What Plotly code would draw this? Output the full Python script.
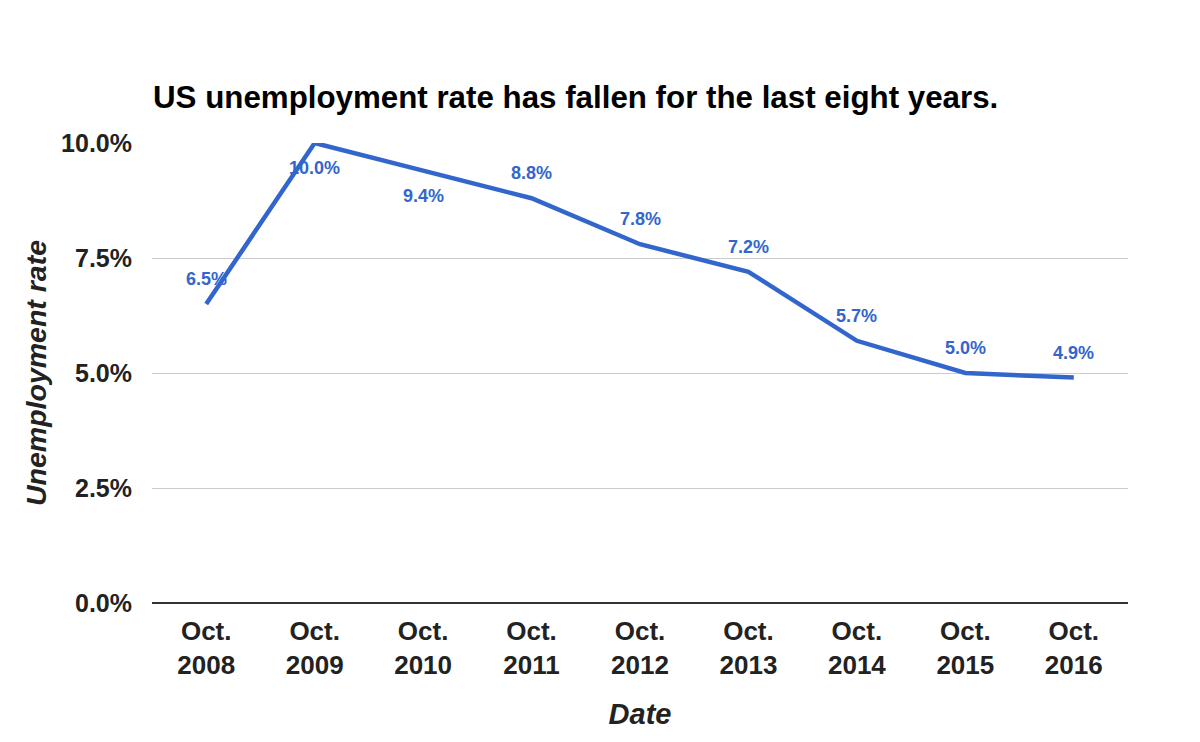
import plotly.graph_objects as go

dates = ["Oct.<br>2008", "Oct.<br>2009", "Oct.<br>2010", "Oct.<br>2011", "Oct.<br>2012",
         "Oct.<br>2013", "Oct.<br>2014", "Oct.<br>2015", "Oct.<br>2016"]
rates = [6.5, 10.0, 9.4, 8.8, 7.8, 7.2, 5.7, 5.0, 4.9]
label_side = [1, -1, -1, 1, 1, 1, 1, 1, 1]  # 1 = above, -1 = below

y_ticks = [0, 2.5, 5.0, 7.5, 10.0]

FONT = "Liberation Sans, Arial, sans-serif"
BLUE = "#3366cc"

# page body has an 8px margin, so positions are offset by -8
fig = go.Figure()
fig.add_trace(go.Scatter(
    x=list(range(len(dates))), y=rates, mode="lines",
    line=dict(color=BLUE, width=4.5), hoverinfo="skip", showlegend=False,
))

for i, (v, s) in enumerate(zip(rates, label_side)):
    fig.add_annotation(
        x=i, y=v, text=f"<b>{v:.1f}%</b>", showarrow=False,
        yshift=25 * s, font=dict(family=FONT, size=18, color=BLUE),
    )

fig.update_layout(
    width=1200, height=742,
    paper_bgcolor="white", plot_bgcolor="white",
    margin=dict(l=144, r=80, t=135, b=147),
    title=dict(
        text="<b>US unemployment rate has fallen for the last eight years.</b>",
        font=dict(family=FONT, size=31.3, color="#000000"),
        xref="container", x=145 / 1200, xanchor="left",
        yref="container", y=1 - 89 / 742, yanchor="middle",
    ),
    font=dict(family=FONT, color="#222222"),
)

fig.update_xaxes(
    tickmode="array", tickvals=list(range(len(dates))),
    ticktext=[f"<b>{d}</b>" for d in dates],
    range=[-0.5, len(dates) - 0.5],
    showgrid=False, zeroline=False, showline=False,
    tickfont=dict(family=FONT, size=26, color="#222222"),
    ticks="", ticklen=0, ticklabelstandoff=10, automargin=False,
    title=dict(text="<b><i>Date</i></b>", font=dict(family=FONT, size=29, color="#222222"), standoff=24),
)

fig.update_yaxes(
    range=[0, 10], tickmode="array", tickvals=y_ticks,
    ticktext=[f"<b>{t:.1f}%</b>" for t in y_ticks],
    showgrid=True, gridcolor="#cccccc", gridwidth=1,
    zeroline=True, zerolinecolor="#333333", zerolinewidth=1.5,
    tickfont=dict(family=FONT, size=25, color="#222222"),
    ticks="", ticklabelstandoff=19, automargin=False,
    title=dict(text="<b><i>Unemployment rate</i></b>", font=dict(family=FONT, size=28.5, color="#222222"), standoff=6),
)

fig.write_html("out.html")
